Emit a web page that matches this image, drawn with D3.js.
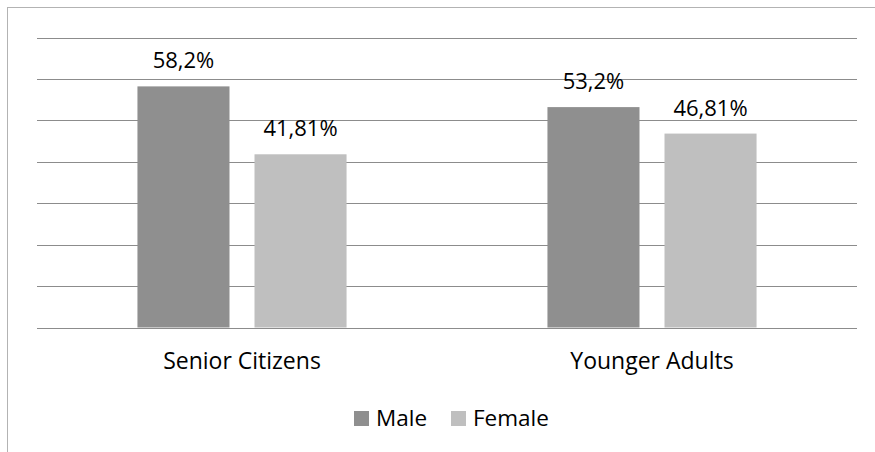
<!DOCTYPE html>
<html>
<head>
<meta charset="utf-8">
<script src="https://cdn.jsdelivr.net/npm/d3@7"></script>
<style>
  html, body { margin: 0; padding: 0; background: #fff; }
  svg { display: block; }
  text { font-family: "Open Sans", "Noto Sans", sans-serif; fill: #000; }
</style>
</head>
<body>
<svg id="chart" width="875" height="452"></svg>
<script>
// Share of respondents by gender within each age group (percent)
const categories = ["Senior Citizens", "Younger Adults"];
const seriesNames = ["Male", "Female"];
const maleValues = [58.2, 53.2];
const femaleValues = [41.81, 46.81];
const valueLabels = [["58,2%", "41,81%"], ["53,2%", "46,81%"]];
const yTicks = [0, 10, 20, 30, 40, 50, 60, 70];

const colors = { Male: "#8f8f8f", Female: "#bfbfbf" };

const svg = d3.select("#chart");
const W = 875, H = 452;
const plot = { left: 37, right: 857, top: 37.5, bottom: 327.5 };

// chart frame (runs past the right and bottom edges of the view)
svg.append("rect")
  .attr("x", 7.5).attr("y", 7.5)
  .attr("width", W + 10).attr("height", H + 10)
  .attr("fill", "none").attr("stroke", "#b3b3b3").attr("stroke-width", 1);

const y = d3.scaleLinear().domain([0, 70]).range([plot.bottom, plot.top]);
const x0 = d3.scaleBand().domain(categories)
  .range([plot.left, plot.right]).paddingInner(0.49).paddingOuter(0.245);
const x1 = d3.scaleBand().domain(seriesNames)
  .range([0, x0.bandwidth()]).paddingInner(0.2137).paddingOuter(0);

// horizontal gridlines
svg.append("g").selectAll("line").data(yTicks).join("line")
  .attr("x1", plot.left).attr("x2", plot.right)
  .attr("y1", d => Math.round(y(d)) + 0.5).attr("y2", d => Math.round(y(d)) + 0.5)
  .attr("stroke", "#8c8c8c").attr("stroke-width", 1);

const rows = categories.map((c, i) => ({
  category: c,
  values: [
    { key: "Male", value: maleValues[i], label: valueLabels[i][0] },
    { key: "Female", value: femaleValues[i], label: valueLabels[i][1] }
  ]
}));

const groups = svg.append("g").selectAll("g").data(rows).join("g")
  .attr("transform", d => `translate(${x0(d.category)},0)`);

groups.selectAll("rect").data(d => d.values).join("rect")
  .attr("x", d => x1(d.key))
  .attr("y", d => y(d.value))
  .attr("width", x1.bandwidth())
  .attr("height", d => y(0) - y(d.value))
  .attr("fill", d => colors[d.key]);

groups.selectAll("text.value").data(d => d.values).join("text")
  .attr("class", "value")
  .attr("x", d => x1(d.key) + x1.bandwidth() / 2)
  .attr("y", d => y(d.value) - 18)
  .attr("text-anchor", "middle")
  .attr("font-size", 22)
  .text(d => d.label);

// category axis labels
const xAxis = d3.axisBottom(x0).tickSize(0).tickPadding(0);
const xg = svg.append("g").attr("transform", `translate(0,${plot.bottom})`).call(xAxis);
xg.select(".domain").remove();
xg.selectAll("text")
  .attr("dy", null).attr("y", 41.5)
  .attr("font-size", 23)
  .style("font-family", '"Open Sans", "Noto Sans", sans-serif')
  .attr("fill", "#000");

// legend
const legendItems = [
  { key: "Male", x: 354 },
  { key: "Female", x: 451 }
];
const lg = svg.append("g").selectAll("g").data(legendItems).join("g")
  .attr("transform", d => `translate(${d.x},411)`);
lg.append("rect").attr("width", 15).attr("height", 15).attr("fill", d => colors[d.key]);
lg.append("text").attr("x", 22).attr("y", 15).attr("font-size", 22.5).text(d => d.key);
</script>
</body>
</html>
